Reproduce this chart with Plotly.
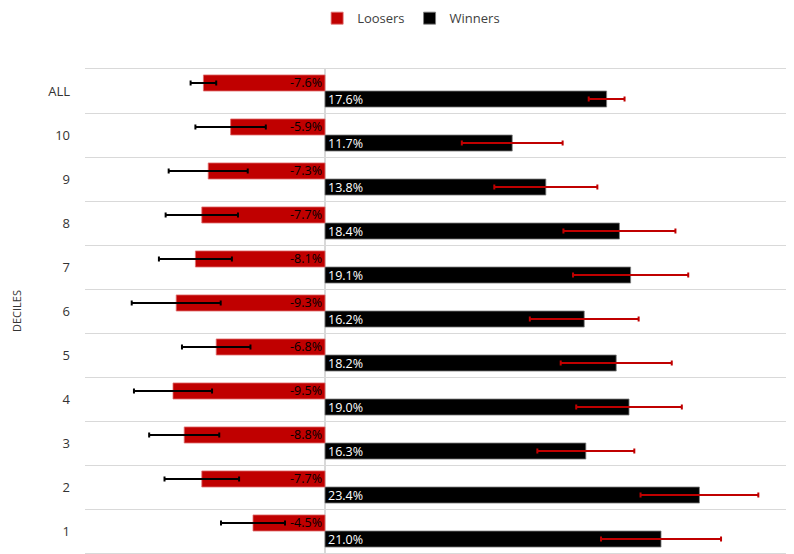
import plotly.graph_objects as go

categories = ["1", "2", "3", "4", "5", "6", "7", "8", "9", "10", "ALL"]
loosers = [-4.5, -7.7, -8.8, -9.5, -6.8, -9.3, -8.1, -7.7, -7.3, -5.9, -7.6]
loosers_err = [2.0, 2.33, 2.19, 2.44, 2.14, 2.78, 2.28, 2.26, 2.47, 2.2, 0.8]
winners = [21.0, 23.4, 16.3, 19.0, 18.2, 16.2, 19.1, 18.4, 13.8, 11.7, 17.6]
winners_err = [3.75, 3.68, 3.03, 3.3, 3.47, 3.4, 3.6, 3.5, 3.22, 3.15, 1.12]

RED = "#C00000"
FONT = "Open Sans"

fig = go.Figure()
fig.add_trace(go.Bar(
    name="Winners", y=categories, x=winners, orientation="h",
    marker=dict(color="#000000", line=dict(color="#7f7f7f", width=0.8)),
    error_x=dict(type="data", array=winners_err, color=RED, thickness=2, width=2.5),
    text=[f"{v:.1f}%" for v in winners], textposition="inside",
    insidetextanchor="start", constraintext="none",
    insidetextfont=dict(color="white", size=12.5, family=FONT),
    legendrank=2,
))
fig.add_trace(go.Bar(
    name="Loosers", y=categories, x=loosers, orientation="h",
    marker=dict(color=RED, line=dict(color="#e07070", width=0.8)),
    error_x=dict(type="data", array=loosers_err, color="#000000", thickness=2, width=2.5),
    text=[f"{v:.1f}%" for v in loosers], textposition="inside",
    insidetextanchor="start", constraintext="none",
    insidetextfont=dict(color="#000000", size=12.5, family=FONT),
    legendrank=1,
))

fig.update_layout(
    width=794, height=554,
    margin=dict(l=77, r=8, t=61, b=9, autoexpand=False),
    paper_bgcolor="white", plot_bgcolor="white",
    barmode="group", bargap=0.27, bargroupgap=0,
    font=dict(family=FONT, size=12, color="#404040"),
    showlegend=True,
    legend=dict(orientation="h", x=0.46, xanchor="center",
                yref="paper", y=1.136, yanchor="top",
                font=dict(size=13, color="#404040"),
                itemwidth=30, tracegroupgap=0),
    xaxis=dict(range=[-15, 29.31], showgrid=False, showticklabels=False,
               zeroline=True, zerolinecolor="#d9d9d9", zerolinewidth=1.5,
               showline=True, mirror=True, linecolor="#d9d9d9", linewidth=1,
               fixedrange=True),
    yaxis=dict(type="category", categoryorder="array", categoryarray=categories,
               tickson="boundaries", showgrid=True, gridcolor="#d9d9d9", gridwidth=1,
               ticks="", ticklabelstandoff=14,
               tickfont=dict(size=13, color="#333333"),
               title=dict(text="DECILES", font=dict(size=11, color="#333333"), standoff=24),
               zeroline=False),
)

fig.write_html("out.html")
